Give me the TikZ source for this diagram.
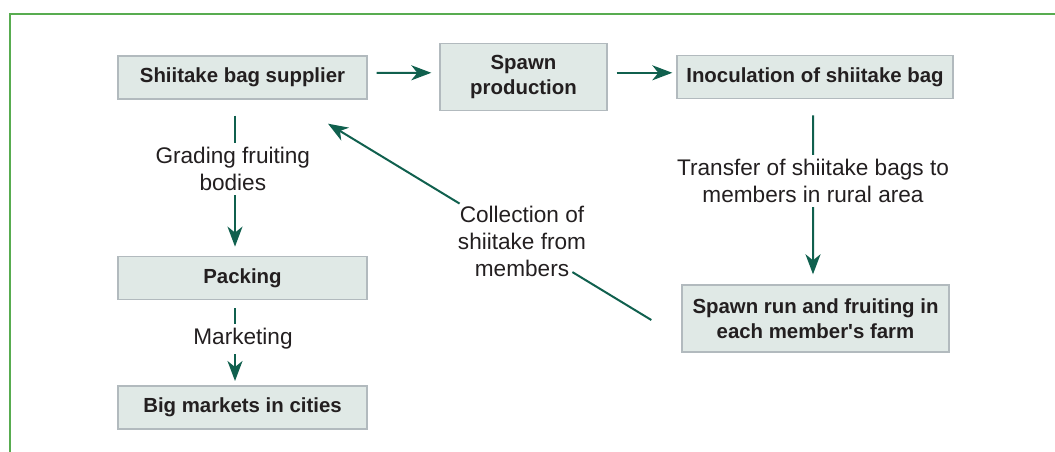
\documentclass[tikz,border=0pt]{standalone}
\usepackage{fontspec}
\setmainfont{Liberation Sans}
\usetikzlibrary{arrows.meta,calc}

\begin{document}
\begin{tikzpicture}[x=10pt,y=10pt]
  \definecolor{framegreen}{RGB}{88,172,80}
  \definecolor{boxfill}{RGB}{224,233,230}
  \definecolor{boxedge}{RGB}{178,186,190}
  \definecolor{flowcol}{RGB}{16,96,78}
  \definecolor{inkcol}{RGB}{35,31,32}

  \tikzset{
    stagebox/.style={draw=boxedge,fill=boxfill,line width=1.4pt,text=inkcol,align=center,inner sep=0pt,
      font=\fontsize{20.4}{25}\selectfont\bfseries},
    flowlabel/.style={fill=white,text=inkcol,align=center,inner sep=4pt,
      font=\fontsize{22.6}{27}\selectfont},
    flowline/.style={draw=flowcol,line width=2pt},
    flowarrow/.style={flowline,-{Stealth[length=20pt,width=15pt,inset=6pt]}},
    panelrule/.style={draw=framegreen,line width=2.8pt}
  }

  \useasboundingbox (0,0) rectangle (105.5,45.2);
  \draw[panelrule] (1.0,0) -- (1.0,43.8) -- (105.5,43.8);

  % ---------------- Top row: supplier to inoculation ----------------
  \node[stagebox,minimum width=249pt,minimum height=43pt] (supplier) at (24.25,37.45) {Shiitake bag supplier};
  \node[stagebox,minimum width=167pt,minimum height=67pt] (spawn) at (52.35,37.47) {Spawn\\production};
  \node[stagebox,minimum width=276pt,minimum height=43pt] (inoculate) at (81.5,37.47) {Inoculation of shiitake bag};

  % ---------------- Left column: packing and markets ----------------
  \node[stagebox,minimum width=249pt,minimum height=43pt] (packing) at (24.25,17.42) {Packing};
  \node[stagebox,minimum width=249pt,minimum height=43pt] (markets) at (24.25,4.45) {Big markets in cities};

  % ---------------- Right column: members' farms ----------------
  \node[stagebox,minimum width=267pt,minimum height=67pt] (farms) at (81.55,13.35) {Spawn run and fruiting in\\each member\textquotesingle s farm};

  % Flow arrows
  \draw[flowarrow,shorten <=9pt,shorten >=8pt] ([yshift=4.7pt]supplier.east) -- ([yshift=4.5pt]spawn.west);
  \draw[flowarrow,shorten <=9pt,shorten >=4pt] ([yshift=4.5pt]spawn.east) -- ([yshift=4.5pt]inoculate.west);
  \draw[flowarrow,shorten <=16pt,shorten >=9pt] ([xshift=-7.5pt]supplier.south) -- ([xshift=-7.5pt]packing.north);
  \draw[flowarrow,shorten <=8.4pt,shorten >=4.3pt] ([xshift=-7.5pt]packing.south) -- ([xshift=-7.5pt]markets.north);
  \draw[flowarrow,shorten <=16pt,shorten >=10pt] ([xshift=-2pt]inoculate.south) -- ([xshift=-2.5pt]farms.north);

  % Return flow from members back to supplier (broken by its label)
  \coordinate (colltail) at ([xshift=-30pt,yshift=-1.5pt]farms.west);
  \coordinate (collhead) at ([xshift=85.5pt,yshift=-24pt]supplier.south);
  \draw[flowline] (colltail) -- ($(colltail)!0.244!(collhead)$);
  \draw[flowarrow] ($(colltail)!0.593!(collhead)$) -- (collhead);

  % Labels on the arrows
  \node[flowlabel] (grading) at (23.28,28.27) {Grading fruiting\\bodies};
  \node[flowlabel] (marketing) at (24.3,11.3) {Marketing};
  \node[flowlabel] (transfer) at (81.3,27.08) {Transfer of shiitake bags to\\members in rural area};
  \node[flowlabel,fill=none] (collect) at (52.2,21.1) {Collection of\\shiitake from\\members};
\end{tikzpicture}
\end{document}
